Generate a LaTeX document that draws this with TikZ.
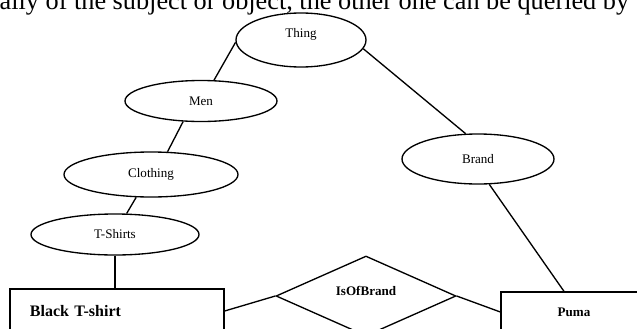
\documentclass[tikz,border=0pt]{standalone}
\usepackage{fontspec}
\setmainfont{Liberation Serif}
\usetikzlibrary{shapes.geometric}
\newcommand{\ontofont}{\linespread{1}\fontsize{9.8}{11}\selectfont}
\newcommand{\ontobigfont}{\linespread{1}\fontsize{12}{14}\selectfont}
\newcommand{\ontotextfont}{\linespread{1}\fontsize{19.7}{24}\selectfont}
\tikzset{
    onto/chart/.style={font=\ontofont, x=0.75pt, y=-0.75pt, line width=1pt},
    onto/concept/.style={ellipse, draw=black, line width=1pt, inner sep=0pt},
    onto/instance/.style={rectangle, draw=black, line width=1pt, font=\bfseries\ontofont, inner sep=0pt},
    onto/instancewide/.style={onto/instance, font=\bfseries\ontobigfont, align=left, inner xsep=15pt, text width=130.5pt, minimum height=33pt},
    onto/relation/.style={diamond, aspect=2.25, draw=black, line width=1pt, inner sep=0pt, minimum width=135pt, minimum height=60pt},
    onto/label/.style={font=\ontofont, inner sep=0pt},
    onto/boldlabel/.style={font=\bfseries\ontofont, inner sep=0pt},
    onto/link/.style={draw=black, line width=1pt}
}
\begin{document}
\begin{tikzpicture}[onto/chart]
    \useasboundingbox (0,0) rectangle (637,329);
    \node[font=\ontotextfont, anchor=base west, inner sep=0pt] (prose) at (-1,9) {ally of the subject or object, the other one can be queried by};
    \node[onto/concept, minimum width=97.5pt, minimum height=40.5pt, label={[onto/label, yshift=4.5pt]center:Thing}] (thing) at (301,40) {};
    \node[onto/concept, minimum width=114pt, minimum height=30.75pt] (men) at (201,101) {Men};
    \node[onto/concept, minimum width=130.5pt, minimum height=33.75pt] (clothing) at (151,174.5) {Clothing};
    \node[onto/concept, minimum width=126pt, minimum height=30.75pt] (tshirts) at (115,234.5) {T-Shirts};
    \node[onto/concept, minimum width=114pt, minimum height=37.5pt] (brand) at (478,159) {Brand};
    \node[onto/instancewide] (black) at (117,311) {Black T-shirt};
    \node[onto/instance, minimum width=109.5pt, minimum height=30pt] (puma) at (574,312) {Puma};
    \node[onto/relation, label={[onto/boldlabel, yshift=3.5pt]center:IsOfBrand}] (isof) at (366,296) {};
    \foreach \source/\target in {thing.182/men.58, men.229/clothing.54, clothing.237/tshirts.61, thing.352/brand.116, black.east/isof.west, isof.east/puma.west}
        \draw[onto/link] (\source) -- (\target);
    \draw[onto/link] (tshirts.south) -- (tshirts.south |- black.north);
    \draw[onto/link] (brand.294) -- ([xshift=-7.5pt]puma.north);
\end{tikzpicture}
\end{document}
